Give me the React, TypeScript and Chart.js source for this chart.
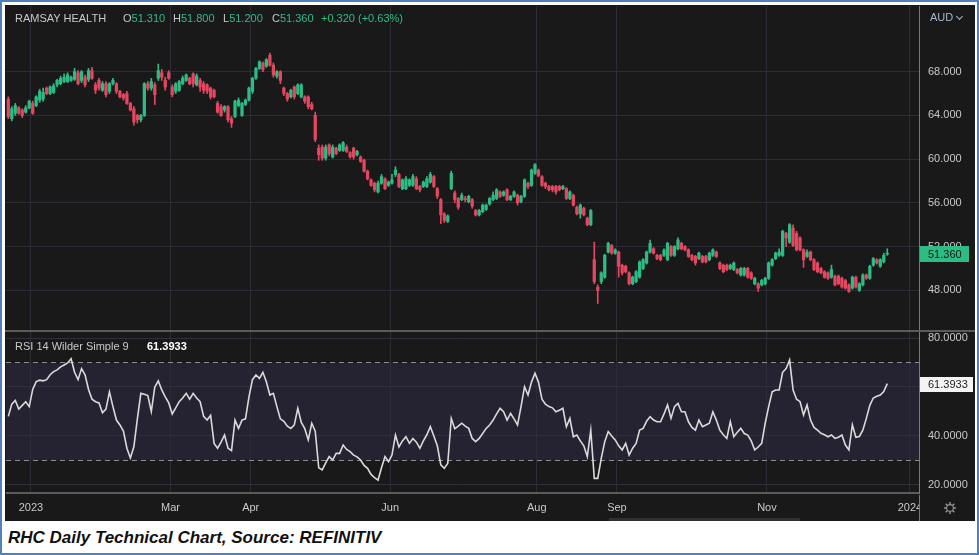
import React, { useEffect, useRef } from 'react';
import { Chart, registerables } from 'chart.js';

Chart.register(...registerables);

// ---------- data ----------
const OPEN = [
  65.5, 63.7, 64.2, 64.7, 64.5, 64.3, 64.7, 65.1, 64.9, 65.4,
  65.5, 66.5, 66.0, 66.1, 66.8, 66.9, 67.1, 67.1, 67.2, 67.3,
  67.9, 67.2, 67.5, 67.3, 68.1, 66.8, 67.2, 66.3, 66.9, 66.2,
  66.9, 66.9, 66.2, 65.9, 66.0, 65.1, 64.6, 64.0, 63.6, 64.0,
  66.9, 66.5, 66.8, 67.4, 67.9, 67.2, 67.9, 66.6, 66.2, 66.3,
  66.9, 67.2, 67.4, 67.8, 66.8, 67.2, 66.9, 66.8, 66.5, 66.3,
  65.1, 64.8, 64.5, 64.8, 63.7, 63.9, 64.9, 64.0, 65.0, 65.4,
  66.2, 67.4, 68.3, 68.8, 68.5, 69.5, 68.6, 67.6, 68.0, 66.5,
  66.0, 65.7, 66.6, 66.0, 65.7, 65.7, 65.7, 65.0,
  64.0, 61.0, 61.1, 60.1, 61.3, 60.2, 61.0, 60.8, 60.8, 61.1,
  60.6, 61.0, 60.4, 60.2, 59.9, 58.9, 58.1, 57.8, 57.0, 57.8,
  58.2, 57.6, 57.8, 58.6, 58.6, 57.3, 57.3, 57.6, 57.6, 58.2,
  57.5, 57.5, 57.5, 57.9, 58.4, 57.3, 56.3, 55.0, 54.3, 57.3,
  56.9, 56.4, 56.3, 56.4, 56.1, 56.3, 55.3, 54.9, 55.2, 55.4,
  55.9, 56.3, 56.4, 57.0, 56.7, 57.2, 56.3, 56.6, 56.7, 56.1,
  56.6, 57.8, 57.6, 58.7, 59.0, 58.4, 57.8, 57.5, 57.5, 57.5,
  57.5, 57.3, 57.3, 56.4, 56.7, 55.6, 55.0, 55.5, 54.6, 54.0,
  50.8, 48.3, 48.8, 49.2, 51.5, 52.1, 51.4, 51.5, 50.3, 50.2,
  49.6, 48.6, 48.8, 49.2, 50.0, 50.5, 51.5, 51.8, 51.2, 51.2,
  51.2, 50.8, 52.0, 51.2, 51.8, 52.3, 52.0, 51.7, 51.2, 51.1,
  50.9, 51.1, 51.1, 50.8, 51.2, 51.5, 50.5, 50.3, 50.3, 50.0,
  49.9, 49.9, 49.4, 49.4, 50.0, 49.6, 48.6, 48.6, 48.5, 48.6,
  49.1, 50.3, 50.9, 51.2, 51.2, 53.2, 52.4, 53.7, 53.2, 52.8,
  51.7, 51.1, 51.5, 50.8, 50.5, 50.0, 49.7, 49.6, 49.2, 49.3,
  49.3, 49.1, 48.9, 48.5, 48.2, 49.2, 48.0, 48.5, 49.4, 49.1,
  50.3, 50.8, 50.2, 50.6, 51.31,
];

const HIGH = [
  65.7, 64.8, 65.1, 64.8, 64.6, 64.9, 65.4, 65.3, 65.8, 66.4,
  66.5, 66.6, 66.7, 66.9, 67.3, 67.6, 67.8, 67.9, 67.6, 68.3,
  68.1, 68.1, 67.7, 68.3, 68.4, 67.0, 67.4, 67.1, 67.1, 67.0,
  67.4, 67.0, 66.3, 66.0, 66.2, 65.2, 64.8, 64.1, 64.1, 67.0,
  67.1, 67.4, 67.0, 68.7, 68.2, 67.5, 68.1, 66.8, 67.0, 67.2,
  67.6, 67.8, 67.5, 67.9, 67.8, 67.4, 67.1, 66.9, 66.6, 66.4,
  65.3, 65.0, 64.9, 64.9, 63.9, 65.4, 65.6, 65.2, 65.5, 66.6,
  67.5, 68.4, 69.0, 68.9, 69.2, 69.7, 68.8, 68.1, 68.1, 66.6,
  66.1, 66.4, 66.7, 66.9, 66.9, 65.8, 65.8, 65.2,
  64.3, 61.3, 61.3, 61.3, 61.4, 61.3, 61.1, 61.4, 61.6, 61.3,
  60.7, 61.1, 60.8, 60.3, 60.0, 59.0, 58.2, 57.9, 58.0, 58.6,
  58.3, 58.0, 58.6, 59.3, 58.7, 58.2, 58.4, 58.2, 58.6, 58.4,
  57.6, 58.0, 58.4, 58.8, 58.5, 57.4, 56.4, 55.1, 54.9, 58.9,
  57.1, 56.5, 56.9, 56.6, 56.7, 56.4, 55.4, 55.4, 55.9, 55.9,
  56.5, 57.0, 57.3, 57.1, 57.1, 57.3, 56.7, 57.1, 56.8, 56.7,
  58.2, 57.9, 59.1, 59.6, 59.1, 58.5, 57.9, 57.6, 57.6, 57.6,
  57.6, 57.6, 57.4, 57.1, 56.8, 55.7, 55.9, 55.6, 54.7, 55.4,
  52.4, 48.5, 49.7, 51.3, 52.4, 52.2, 51.8, 51.6, 50.4, 50.3,
  49.7, 49.3, 49.8, 50.7, 50.9, 51.6, 52.6, 51.9, 51.3, 51.3,
  51.8, 52.4, 52.1, 52.1, 52.8, 52.4, 52.1, 51.8, 51.3, 51.2,
  51.5, 51.2, 51.2, 51.5, 51.8, 51.6, 50.6, 50.4, 50.4, 50.4,
  50.6, 50.0, 50.1, 50.1, 50.1, 49.7, 49.2, 48.7, 49.0, 49.2,
  50.6, 50.9, 51.5, 51.8, 53.5, 53.3, 54.1, 54.0, 53.4, 52.9,
  51.8, 51.7, 51.6, 50.9, 50.6, 50.1, 49.8, 49.7, 50.3, 49.4,
  49.4, 49.2, 49.0, 48.6, 49.3, 49.3, 48.7, 49.5, 49.5, 50.3,
  51.0, 50.9, 50.9, 51.4, 51.8,
];

const LOW = [
  63.7, 63.5, 64.0, 64.1, 63.8, 64.2, 64.6, 64.1, 64.8, 65.2,
  65.3, 65.9, 65.9, 66.0, 66.6, 66.8, 67.0, 67.0, 67.1, 67.2,
  66.8, 67.0, 66.6, 67.1, 67.3, 66.0, 66.3, 66.2, 65.7, 66.0,
  66.8, 66.0, 65.6, 65.4, 65.0, 64.4, 63.1, 63.3, 63.4, 63.9,
  66.3, 66.3, 65.0, 67.2, 67.2, 66.3, 67.3, 65.7, 66.0, 66.2,
  66.8, 67.1, 66.8, 66.6, 66.7, 66.2, 66.0, 66.0, 65.5, 65.6,
  64.2, 63.9, 64.3, 63.4, 62.9, 63.8, 64.8, 63.9, 64.9, 65.3,
  66.0, 67.3, 68.2, 68.0, 68.4, 68.5, 67.5, 67.4, 66.9, 65.8,
  65.3, 65.6, 65.5, 65.9, 65.6, 65.1, 64.6, 64.5,
  61.6, 59.9, 59.9, 59.9, 60.3, 60.1, 60.4, 60.7, 60.7, 60.6,
  60.1, 60.0, 60.3, 59.7, 58.8, 58.1, 57.5, 57.0, 56.9, 57.7,
  57.2, 57.5, 57.7, 58.4, 57.4, 57.2, 57.2, 57.5, 57.5, 57.2,
  57.0, 57.4, 57.4, 57.8, 57.4, 56.4, 54.1, 54.2, 54.2, 57.2,
  56.0, 55.4, 56.2, 56.1, 56.0, 55.5, 54.8, 54.8, 55.1, 55.3,
  55.8, 56.2, 56.3, 56.5, 56.6, 56.2, 56.2, 56.5, 55.8, 56.0,
  56.5, 57.3, 57.5, 58.6, 58.4, 57.5, 57.3, 57.1, 57.0, 56.8,
  57.1, 57.2, 56.3, 56.3, 55.7, 54.9, 54.6, 54.8, 53.9, 53.9,
  48.6, 46.8, 48.6, 49.1, 51.4, 51.3, 51.3, 49.2, 49.4, 49.6,
  48.5, 48.5, 48.7, 49.1, 49.9, 50.4, 51.4, 51.3, 50.8, 50.7,
  51.1, 50.7, 51.1, 51.1, 51.7, 51.7, 51.6, 51.0, 50.7, 50.3,
  50.8, 50.5, 50.5, 50.7, 51.1, 51.0, 49.9, 49.6, 49.8, 49.9,
  49.8, 49.5, 49.3, 49.3, 49.1, 49.0, 48.5, 47.9, 48.4, 48.5,
  49.0, 50.2, 50.8, 51.1, 51.1, 52.0, 52.3, 52.0, 51.6, 51.6,
  50.1, 51.0, 50.7, 49.8, 49.6, 49.5, 49.1, 49.0, 49.1, 48.4,
  48.5, 48.2, 48.1, 47.8, 48.1, 48.2, 47.9, 48.4, 49.0, 49.0,
  50.2, 50.4, 50.1, 50.5, 51.2,
];

const CLOSE = [
  63.9, 64.6, 64.9, 64.2, 64.0, 64.7, 65.3, 64.2, 65.7, 66.2,
  66.1, 66.0, 66.6, 66.7, 67.2, 67.4, 67.5, 67.7, 67.5, 68.0,
  66.9, 68.0, 66.8, 68.1, 67.4, 66.3, 66.5, 66.9, 65.9, 66.9,
  67.2, 66.2, 65.7, 65.6, 65.1, 64.5, 63.4, 63.6, 64.0, 66.9,
  66.5, 67.1, 65.9, 68.1, 67.5, 66.6, 67.4, 65.9, 66.9, 67.1,
  67.4, 67.7, 66.9, 66.9, 67.6, 66.6, 66.3, 66.2, 65.7, 65.7,
  64.3, 64.0, 64.8, 63.6, 63.3, 65.3, 65.4, 65.1, 65.4, 66.5,
  67.4, 68.3, 68.9, 68.2, 69.1, 68.6, 67.7, 68.0, 67.2, 66.0,
  65.5, 66.3, 65.7, 66.8, 66.8, 65.3, 64.8, 64.6,
  61.8, 60.4, 60.1, 61.1, 60.5, 61.1, 60.5, 61.3, 61.5, 60.7,
  60.2, 60.2, 60.7, 59.8, 58.9, 58.2, 57.6, 57.2, 57.8, 58.4,
  57.3, 57.9, 58.1, 59.0, 57.5, 58.1, 58.2, 58.1, 58.4, 57.3,
  57.2, 57.9, 58.2, 58.6, 57.5, 56.6, 54.9, 54.4, 54.8, 58.7,
  56.3, 55.6, 56.7, 56.3, 56.6, 55.7, 54.9, 55.3, 55.8, 55.8,
  56.4, 56.7, 57.2, 56.6, 57.0, 56.3, 56.6, 57.0, 56.0, 56.6,
  58.1, 57.5, 59.0, 59.5, 58.5, 57.6, 57.5, 57.2, 57.2, 57.0,
  57.2, 57.5, 56.4, 57.0, 55.8, 55.0, 55.8, 54.9, 54.0, 55.3,
  48.8, 48.0, 49.6, 51.2, 52.3, 51.4, 51.7, 50.2, 49.6, 49.7,
  48.6, 49.2, 49.7, 50.6, 50.8, 51.5, 52.3, 51.4, 50.9, 50.8,
  51.7, 52.3, 51.2, 52.0, 52.6, 51.8, 51.7, 51.1, 50.8, 50.5,
  51.4, 50.6, 50.6, 51.4, 51.7, 51.1, 50.0, 49.7, 49.9, 50.3,
  50.5, 49.6, 50.0, 50.0, 49.2, 49.1, 49.1, 48.2, 48.9, 49.1,
  50.5, 50.8, 51.4, 51.5, 53.4, 52.8, 54.0, 52.1, 51.7, 51.7,
  50.8, 51.5, 50.8, 49.9, 49.7, 49.6, 49.2, 49.1, 49.9, 48.5,
  48.6, 48.3, 48.2, 47.9, 49.2, 48.3, 48.6, 49.4, 49.1, 50.2,
  50.9, 50.5, 50.8, 51.2, 51.36,
];

const RSI = [
  48, 53, 54.5, 51, 52.5, 54, 52, 59, 62.2, 62.8,
  62.5, 63, 65, 66.3, 67, 68.2, 69, 69.8, 71.5, 66,
  63, 67.5, 65, 59, 55, 54, 53.5, 49.5, 51, 58,
  52, 46.5, 44.5, 42, 35, 31, 35.6, 47, 57.4, 57,
  56.5, 50, 60, 62.5, 58.8, 56, 53.5, 49, 51.5, 54,
  55.5, 57.4, 55, 57.4, 55.5, 54, 48, 46.5, 48.4, 37,
  35, 37.5, 40.4, 35, 34, 46.5, 43.1, 46.5, 47, 56,
  63, 64.9, 63.5, 66, 62, 56.7, 57.4, 52, 47, 46,
  44, 43.1, 44.5, 51.3, 45.5, 43, 38.4, 45.2, 42, 27,
  26.2, 29, 31.6, 30.2, 32.9, 32.9, 36.3, 34.5, 33.6, 32.2,
  31.5, 30.2, 28, 26.8, 24.3, 23, 22, 27, 31.6, 29.5,
  32.2, 40.4, 35.5, 38, 39.7, 37, 39, 37.5, 35, 38,
  40.5, 43.8, 40, 36, 28.2, 26.8, 28.9, 47.2, 43, 44,
  45.2, 44, 43.1, 39, 37.7, 39, 41, 43.1, 44.5, 46.5,
  49, 51.3, 49.9, 46.5, 49.2, 47, 44.5, 52, 60.1, 56.7,
  62, 65.6, 62, 55, 53, 52, 51.5, 49.9, 50.5, 51.3,
  43.8, 47.2, 39.7, 40.4, 38, 36, 31.6, 42.4, 22.7, 22.7,
  30.9, 37.7, 41.8, 40, 38.4, 36, 34.3, 37, 32.2, 35,
  37, 42.4, 43.1, 46, 47.9, 46.5, 45.8, 45.8, 49, 52.7,
  47.2, 52, 53.3, 49.9, 49.9, 45.8, 43.5, 42.4, 46.5, 43.8,
  44.5, 45.2, 49.9, 46.5, 42.4, 40.5, 39, 45.8, 39.7, 41.5,
  43.1, 41, 40.4, 38, 34.3, 35.5, 37, 45.2, 52, 58,
  58.8, 58.8, 66, 67.5, 71, 58.8, 55, 54, 48.6, 52.7,
  46.5, 43.5, 42.4, 41.1, 40.5, 39.7, 40.4, 39, 39.5, 40.4,
  36.3, 34.3, 44.5, 39.5, 39.8, 42.4, 47.2, 52.5, 55.5, 56.2,
  56.7, 58.1, 61.3933,
];

// month boundaries, as positions on the trading-day index
const MONTH_POS = [6.5, 46.5, 69.5, 109.5, 151.5, 174.5, 217.5, 258.5];
const MONTH_LABELS = ['2023', 'Mar', 'Apr', 'Jun', 'Aug', 'Sep', 'Nov', '2024'];
const PRICE_TICKS = [48, 52, 56, 60, 64, 68];
const RSI_TICKS = [20, 40, 60, 80];
const RSI_BAND = [30, 70];

const X_MIN = -0.66;
const X_MAX = 261.1;
const PRICE_MIN = 44.37;
const PRICE_MAX = 74.01;
const RSI_MIN = 16.73;
const RSI_MAX = 82.45;

const TITLE = 'RAMSAY HEALTH';
const CHANGE_TEXT = '+0.320 (+0.63%)';
const RSI_TITLE = 'RSI 14 Wilder Simple 9';
const CURRENCY = 'AUD';
const CAPTION = 'RHC Daily Technical Chart, Source: REFINITIV';

// ---------- style ----------
const GREEN = '#2dbd84';
const RED = '#e4475f';
const GRID = '#2c2c37';
const TEXT = '#c9c9c9';
const SEP = '#7a7a7a';
const BG = '#19191a';
const BAND = '#252331';
const FONT = '"Liberation Sans", Arial, Helvetica, sans-serif';

export default function App() {
  const priceRef = useRef<HTMLCanvasElement>(null);
  const rsiRef = useRef<HTMLCanvasElement>(null);

  const n = CLOSE.length;
  const lastO = OPEN[n - 1];
  const lastH = HIGH[n - 1];
  const lastL = LOW[n - 1];
  const lastC = CLOSE[n - 1];
  const lastRsi = RSI[RSI.length - 1];

  useEffect(() => {
    Chart.defaults.font.family = FONT;
    const idx = CLOSE.map((_, i) => i);
    const colors = idx.map((i) => (CLOSE[i] >= OPEN[i] ? GREEN : RED));

    const priceTag = {
      id: 'priceTag',
      afterDraw(chart: any) {
        const { ctx, chartArea } = chart;
        const y = Math.round(chart.scales.y.getPixelForValue(lastC));
        ctx.save();
        ctx.fillStyle = GREEN;
        ctx.fillRect(chartArea.right + 1, y - 8, 49, 16);
        ctx.fillStyle = '#0c1d15';
        ctx.font = `11px ${FONT}`;
        ctx.textBaseline = 'middle';
        ctx.textAlign = 'left';
        ctx.fillText(lastC.toFixed(3), chartArea.right + 9, y + 0.5);
        ctx.restore();
      },
    };

    const xTicks = (s: any) => {
      s.ticks = MONTH_POS.map((v) => ({ value: v }));
    };

    const priceChart = new Chart(priceRef.current as HTMLCanvasElement, {
      type: 'bar',
      data: {
        datasets: [
          {
            label: 'body',
            data: idx.map((i) => ({ x: i, y: [OPEN[i], CLOSE[i]] })) as any,
            backgroundColor: colors,
            borderWidth: 0,
            barThickness: 2.6,
            grouped: false,
            minBarLength: 1,
            order: 0,
          } as any,
          {
            label: 'wick',
            data: idx.map((i) => ({ x: i, y: [LOW[i], HIGH[i]] })) as any,
            backgroundColor: colors,
            borderWidth: 0,
            barThickness: 1,
            grouped: false,
            order: 1,
          } as any,
        ],
      },
      options: {
        animation: false,
        responsive: false,
        events: [],
        layout: { padding: 0 },
        plugins: { legend: { display: false }, tooltip: { enabled: false } },
        scales: {
          x: {
            type: 'linear',
            min: X_MIN,
            max: X_MAX,
            offset: false,
            afterBuildTicks: xTicks,
            ticks: { display: false },
            grid: { color: GRID, drawTicks: false, offset: false },
            border: { display: false },
            afterFit: (s: any) => {
              s.height = 0;
              s.paddingLeft = 0;
              s.paddingRight = 0;
            },
          },
          y: {
            position: 'right',
            min: PRICE_MIN,
            max: PRICE_MAX,
            afterBuildTicks: (s: any) => {
              s.ticks = PRICE_TICKS.map((v) => ({ value: v }));
            },
            ticks: {
              color: TEXT,
              font: { size: 11 },
              padding: 9,
              callback: (v: any) => Number(v).toFixed(3),
            },
            grid: { color: GRID, drawTicks: false },
            border: { display: true, color: SEP, width: 1 },
            afterFit: (s: any) => {
              s.width = 55;
              s.paddingTop = 0;
              s.paddingBottom = 0;
            },
          },
        },
      } as any,
      plugins: [priceTag],
    });

    const rsiDeco = {
      id: 'rsiDeco',
      beforeDraw(chart: any) {
        const { ctx, chartArea: a } = chart;
        const s = chart.scales.y;
        const yTop = s.getPixelForValue(RSI_BAND[1]);
        const yBot = s.getPixelForValue(RSI_BAND[0]);
        ctx.save();
        ctx.fillStyle = BAND;
        ctx.fillRect(a.left, yTop, a.right - a.left, yBot - yTop);
        ctx.restore();
      },
      beforeDatasetsDraw(chart: any) {
        const { ctx, chartArea: a } = chart;
        const s = chart.scales.y;
        ctx.save();
        ctx.strokeStyle = '#8e8e8e';
        ctx.lineWidth = 1;
        ctx.setLineDash([5, 4]);
        RSI_BAND.forEach((v) => {
          const y = Math.round(s.getPixelForValue(v)) + 0.5;
          ctx.beginPath();
          ctx.moveTo(a.left, y);
          ctx.lineTo(a.right, y);
          ctx.stroke();
        });
        ctx.restore();
      },
      afterDraw(chart: any) {
        const { ctx, chartArea } = chart;
        const y = Math.round(chart.scales.y.getPixelForValue(lastRsi));
        ctx.save();
        ctx.fillStyle = '#f4f4f4';
        ctx.fillRect(chartArea.right + 1, y - 7, 53, 15);
        ctx.fillStyle = '#222222';
        ctx.font = `11px ${FONT}`;
        ctx.textBaseline = 'middle';
        ctx.textAlign = 'left';
        ctx.fillText(lastRsi.toFixed(4), chartArea.right + 9, y + 0.5);
        ctx.restore();
      },
    };

    const rsiChart = new Chart(rsiRef.current as HTMLCanvasElement, {
      type: 'line',
      data: {
        datasets: [
          {
            label: 'RSI',
            data: idx.map((i) => ({ x: i, y: RSI[i] })) as any,
            borderColor: '#dadada',
            borderWidth: 1.6,
            pointRadius: 0,
            tension: 0,
            fill: false,
          },
        ],
      },
      options: {
        animation: false,
        responsive: false,
        events: [],
        layout: { padding: { top: 1, left: 0, right: 0, bottom: 0 } },
        plugins: { legend: { display: false }, tooltip: { enabled: false } },
        scales: {
          x: {
            type: 'linear',
            min: X_MIN,
            max: X_MAX,
            offset: false,
            afterBuildTicks: xTicks,
            ticks: {
              color: TEXT,
              font: { size: 11 },
              padding: 8,
              maxRotation: 0,
              autoSkip: false,
              callback: (_v: any, i: number) => MONTH_LABELS[i],
            },
            grid: { color: GRID, drawTicks: false },
            border: { display: true, color: '#5c5c5c', width: 2 },
            afterFit: (s: any) => {
              s.height = 28;
              s.paddingLeft = 0;
              s.paddingRight = 0;
            },
          },
          y: {
            position: 'right',
            min: RSI_MIN,
            max: RSI_MAX,
            afterBuildTicks: (s: any) => {
              s.ticks = RSI_TICKS.map((v) => ({ value: v }));
            },
            ticks: {
              color: TEXT,
              font: { size: 11 },
              padding: 9,
              callback: (v: any) => Number(v).toFixed(4),
            },
            grid: { color: '#302f3b', drawTicks: false },
            border: { display: true, color: SEP, width: 1 },
            afterFit: (s: any) => {
              s.width = 55;
              s.paddingTop = 0;
              s.paddingBottom = 0;
            },
          },
        },
      } as any,
      plugins: [rsiDeco],
    });

    return () => {
      priceChart.destroy();
      rsiChart.destroy();
    };
  }, []);

  const txt: React.CSSProperties = {
    position: 'absolute',
    fontFamily: FONT,
    fontSize: 11,
    lineHeight: '14px',
    whiteSpace: 'nowrap',
    color: TEXT,
  };
  const fields: [string, number, number][] = [
    ['O', lastO, 123],
    ['H', lastH, 173],
    ['L', lastL, 223],
    ['C', lastC, 272],
  ];

  return (
    <div style={{ position: 'fixed', left: 0, top: 0, width: 979, height: 555, background: '#ffffff', overflow: 'hidden' }}>
      <div style={{ position: 'absolute', left: 5, top: 5, width: 970, height: 516, background: BG }} />
      <canvas
        ref={priceRef}
        width={968}
        height={324}
        style={{ position: 'absolute', left: 6, top: 6, width: 968, height: 324 }}
      />
      <canvas
        ref={rsiRef}
        width={968}
        height={190}
        style={{ position: 'absolute', left: 6, top: 331, width: 968, height: 190 }}
      />
      {/* panel separator */}
      <div style={{ position: 'absolute', left: 5, top: 330, width: 970, height: 2, background: '#5b5b5b' }} />
      {/* bottom-right corner of the time axis */}
      <div
        style={{
          position: 'absolute',
          left: 919,
          top: 495,
          width: 55,
          height: 26,
          background: BG,
          borderLeft: `1px solid ${SEP}`,
        }}
      >
        <svg width={14} height={14} viewBox="-7 -7 14 14" style={{ position: 'absolute', left: 23, top: 6 }}>
          <circle r={3.4} fill="none" stroke="#9a9a9a" strokeWidth={1.1} />
          {[0, 45, 90, 135, 180, 225, 270, 315].map((a) => (
            <line
              key={a}
              x1={Math.cos((a * Math.PI) / 180) * 3.6}
              y1={Math.sin((a * Math.PI) / 180) * 3.6}
              x2={Math.cos((a * Math.PI) / 180) * 6}
              y2={Math.sin((a * Math.PI) / 180) * 6}
              stroke="#9a9a9a"
              strokeWidth={1.4}
            />
          ))}
        </svg>
      </div>
      {/* scroll thumb */}
      <div style={{ position: 'absolute', left: 609, top: 518, width: 191, height: 3, background: '#303030' }} />

      {/* header */}
      <span style={{ ...txt, left: 15, top: 11 }}>{TITLE}</span>
      {fields.map(([k, v, x]) => (
        <span key={k} style={{ ...txt, left: x, top: 11 }}>
          {k}
          <span style={{ color: GREEN }}>{v.toFixed(3)}</span>
        </span>
      ))}
      <span style={{ ...txt, left: 321, top: 11, color: GREEN }}>{CHANGE_TEXT}</span>
      <span style={{ ...txt, left: 930, top: 10, color: '#a9b5cc' }}>{CURRENCY}</span>
      <span
        style={{
          position: 'absolute',
          left: 957,
          top: 14,
          width: 4,
          height: 4,
          borderRight: '1px solid #a9b5cc',
          borderBottom: '1px solid #a9b5cc',
          transform: 'rotate(45deg)',
        }}
      />

      {/* RSI title */}
      <span style={{ ...txt, left: 15, top: 339 }}>{RSI_TITLE}</span>
      <span style={{ ...txt, left: 147, top: 339, color: '#ffffff', fontWeight: 700 }}>{lastRsi.toFixed(4)}</span>

      {/* caption */}
      <span
        style={{
          position: 'absolute',
          left: 8,
          top: 527,
          fontFamily: FONT,
          fontSize: 17,
          fontWeight: 700,
          fontStyle: 'italic',
          color: '#111111',
          whiteSpace: 'nowrap',
          lineHeight: '22px',
        }}
      >
        {CAPTION}
      </span>

      {/* picture frame */}
      <div
        style={{
          position: 'absolute',
          left: 0,
          top: 0,
          width: 979,
          height: 555,
          boxSizing: 'border-box',
          border: '2px solid #4f81bd',
          pointerEvents: 'none',
        }}
      />
    </div>
  );
}
